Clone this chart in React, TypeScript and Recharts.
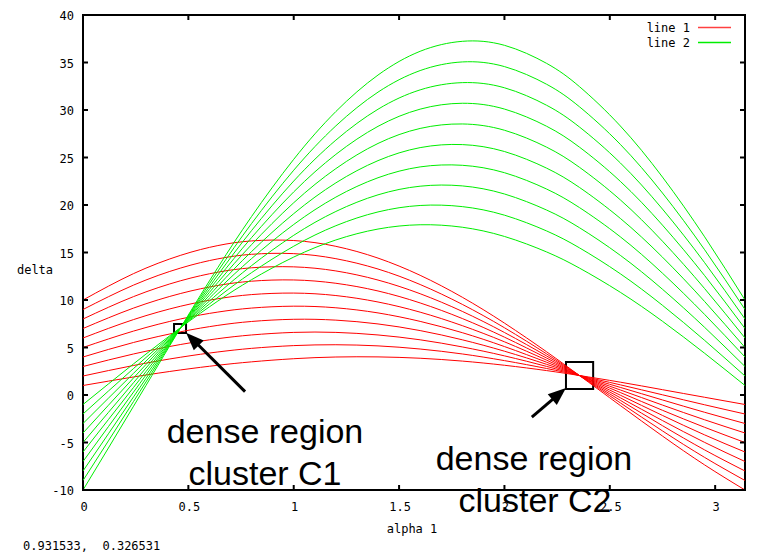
import React from "react";
import {
  LineChart, Line, XAxis, YAxis, Legend, ReferenceArea, ReferenceLine,
} from "recharts";

// alpha 1 sample positions (0 .. pi)
const alpha = [0, 0.24, 0.464, 0.64, 0.8, 1.0, 1.2, 1.4, 1.6, 1.8, 2.0, 2.2, 2.356, 2.55, 2.75, 2.95, 3.1416];

// line 1 family (red), one array per curve
const line1 = [
  [1, 1.9, 2.64, 3.13, 3.49, 3.82, 4.0, 4.01, 3.87, 3.57, 3.13, 2.57, 2.05, 1.35, 0.56, -0.24, -1],
  [2, 3.11, 3.98, 4.53, 4.91, 5.2, 5.29, 5.17, 4.84, 4.32, 3.62, 2.79, 2.05, 1.07, 0.02, -1.03, -2],
  [3, 4.32, 5.32, 5.93, 6.32, 6.59, 6.59, 6.32, 5.81, 5.06, 4.12, 3.01, 2.05, 0.8, -0.52, -1.82, -3],
  [4, 5.53, 6.66, 7.33, 7.74, 7.97, 7.88, 7.48, 6.78, 5.81, 4.61, 3.23, 2.05, 0.53, -1.06, -2.61, -4],
  [5, 6.73, 8.01, 8.73, 9.15, 9.35, 9.18, 8.64, 7.75, 6.56, 5.1, 3.45, 2.05, 0.26, -1.61, -3.4, -5],
  [6, 7.94, 9.35, 10.13, 10.57, 10.73, 10.47, 9.79, 8.72, 7.3, 5.6, 3.67, 2.05, -0.02, -2.15, -4.2, -6],
  [7, 9.15, 10.69, 11.53, 11.98, 12.11, 11.76, 10.95, 9.69, 8.05, 6.09, 3.89, 2.05, -0.29, -2.69, -4.99, -7],
  [8, 10.36, 12.03, 12.93, 13.39, 13.49, 13.06, 12.1, 10.66, 8.8, 6.58, 4.11, 2.05, -0.56, -3.23, -5.78, -8],
  [9, 11.57, 13.37, 14.33, 14.81, 14.88, 14.35, 13.26, 11.63, 9.54, 7.08, 4.33, 2.05, -0.83, -3.78, -6.57, -9],
  [10, 12.78, 14.71, 15.73, 16.22, 16.26, 15.65, 14.41, 12.6, 10.29, 7.57, 4.55, 2.05, -1.11, -4.32, -7.36, -10],
];

// line 2 family (green)
const line2 = [
  [-1, 3.28, 7.11, 9.89, 12.14, 14.52, 16.32, 17.47, 17.92, 17.66, 16.69, 15.06, 13.36, 10.81, 7.76, 4.39, 1],
  [-2, 2.79, 7.11, 10.28, 12.88, 15.66, 17.82, 19.27, 19.95, 19.83, 18.93, 17.27, 15.49, 12.76, 9.44, 5.75, 2],
  [-3, 2.29, 7.11, 10.67, 13.62, 16.81, 19.32, 21.07, 21.98, 22.01, 21.16, 19.47, 17.61, 14.7, 11.13, 7.12, 3],
  [-4, 1.8, 7.11, 11.07, 14.36, 17.95, 20.83, 22.87, 24.01, 24.18, 23.4, 21.68, 19.73, 16.65, 12.82, 8.48, 4],
  [-5, 1.3, 7.11, 11.46, 15.1, 19.09, 22.33, 24.67, 26.04, 26.36, 25.63, 23.88, 21.85, 18.59, 14.51, 9.84, 5],
  [-6, 0.8, 7.11, 11.85, 15.83, 20.24, 23.83, 26.48, 28.06, 28.53, 27.87, 26.09, 23.97, 20.54, 16.19, 11.2, 6],
  [-7, 0.31, 7.11, 12.24, 16.57, 21.38, 25.33, 28.28, 30.09, 30.71, 30.1, 28.29, 26.09, 22.49, 17.88, 12.57, 7],
  [-8, -0.19, 7.11, 12.63, 17.31, 22.52, 26.83, 30.08, 32.12, 32.88, 32.34, 30.5, 28.21, 24.43, 19.57, 13.93, 8],
  [-9, -0.68, 7.11, 13.03, 18.05, 23.66, 28.33, 31.88, 34.15, 35.06, 34.57, 32.71, 30.34, 26.38, 21.26, 15.29, 9],
  [-10, -1.18, 7.11, 13.42, 18.79, 24.81, 29.84, 33.68, 36.18, 37.23, 36.81, 34.91, 32.46, 28.32, 22.94, 16.65, 10],
];

const xTicks = [0, 0.5, 1, 1.5, 2, 2.5, 3];
const yTicks = [-10, -5, 0, 5, 10, 15, 20, 25, 30, 35, 40];
const X_MAX = 3.1416;

// annotation boxes and arrows, in data units
const boxC1 = { x1: 0.432, x2: 0.489, y1: 6.53, y2: 7.47 };
const boxC2 = { x1: 2.292, x2: 2.421, y1: 0.63, y2: 3.47 };
const arrowC1 = [{ x: 0.769, y: 0.35 }, { x: 0.489, y: 6.56 }];
const arrowC2 = [{ x: 2.13, y: -2.32 }, { x: 2.292, y: 0.74 }];

const W = 758;
const H = 553;
const LEFT = 83;
const RIGHT = 745;
const TOP = 15;
const BOTTOM = 490;
const MONO = "'DejaVu Sans Mono', monospace";
const SANS = "'Liberation Sans', Arial, sans-serif";
const RED = "#ff0000";
const GREEN = "#00ee00";

const data = alpha.map((a, i) => {
  const row: Record<string, number> = { a };
  line1.forEach((c, k) => { row[`r${k}`] = c[i]; });
  line2.forEach((c, k) => { row[`g${k}`] = c[i]; });
  return row;
});

// inward ticks on bottom and mirrored on top
const XTick = ({ x, payload }: any) => (
  <g>
    <line x1={x} y1={BOTTOM} x2={x} y2={BOTTOM - 5} stroke="#000" strokeWidth={2} />
    <line x1={x} y1={TOP} x2={x} y2={TOP + 5} stroke="#000" strokeWidth={2} />
    <text x={x + 1} y={511} textAnchor="middle" fontFamily={MONO} fontSize={12} fill="#000">
      {String(payload.value)}
    </text>
  </g>
);

// inward ticks on left and mirrored on right
const YTick = ({ y, payload }: any) => (
  <g>
    <line x1={LEFT} y1={y} x2={LEFT + 5} y2={y} stroke="#000" strokeWidth={2} />
    <line x1={RIGHT} y1={y} x2={RIGHT - 5} y2={y} stroke="#000" strokeWidth={2} />
    <text x={74} y={y + 5} textAnchor="end" fontFamily={MONO} fontSize={12} fill="#000">
      {String(payload.value)}
    </text>
  </g>
);

const Arrow = (props: any) => {
  const { x1, y1, x2, y2 } = props;
  const dx = x2 - x1;
  const dy = y2 - y1;
  const len = Math.hypot(dx, dy) || 1;
  const ux = dx / len;
  const uy = dy / len;
  const head = 18;
  const half = 7;
  const bx = x2 - ux * head;
  const by = y2 - uy * head;
  return (
    <g>
      <line x1={x1} y1={y1} x2={bx + ux * 2} y2={by + uy * 2} stroke="#000" strokeWidth={3} />
      <polygon
        points={`${x2},${y2} ${bx - uy * half},${by + ux * half} ${bx + uy * half},${by - ux * half}`}
        fill="#000"
      />
    </g>
  );
};

const LegendBox = () => (
  <svg width={140} height={32}>
    <text x={90} y={12} textAnchor="end" fontFamily={MONO} fontSize={12} fill="#000">line 1</text>
    <line x1={98} y1={7.5} x2={131} y2={7.5} stroke="#ff4040" strokeWidth={1.5} />
    <text x={90} y={27} textAnchor="end" fontFamily={MONO} fontSize={12} fill="#000">line 2</text>
    <line x1={98} y1={22.5} x2={131} y2={22.5} stroke={GREEN} strokeWidth={1.5} />
  </svg>
);

export default function App() {
  return (
    <div style={{ position: "absolute", left: 0, top: 0, width: W, height: H, background: "#fff" }}>
      <LineChart
        width={W}
        height={H}
        data={data}
        margin={{ top: TOP, right: W - RIGHT, bottom: 33, left: 0 }}
      >
        <XAxis
          dataKey="a"
          type="number"
          domain={[0, X_MAX]}
          ticks={xTicks}
          interval={0}
          height={30}
          axisLine={false}
          tickLine={false}
          tick={<XTick />}
          allowDataOverflow
        />
        <YAxis
          type="number"
          domain={[-10, 40]}
          ticks={yTicks}
          interval={0}
          width={LEFT}
          axisLine={false}
          tickLine={false}
          tick={<YTick />}
          allowDataOverflow
        />
        <Legend
          layout="vertical"
          align="center"
          verticalAlign="middle"
          content={() => <LegendBox />}
          wrapperStyle={{ left: 600, top: 20, width: 140, height: 32 }}
        />
        {line1.map((_, k) => (
          <Line
            key={`r${k}`}
            type="natural"
            dataKey={`r${k}`}
            stroke={RED}
            strokeWidth={1}
            dot={false}
            activeDot={false}
            isAnimationActive={false}
          />
        ))}
        {line2.map((_, k) => (
          <Line
            key={`g${k}`}
            type="natural"
            dataKey={`g${k}`}
            stroke={GREEN}
            strokeWidth={1}
            dot={false}
            activeDot={false}
            isAnimationActive={false}
          />
        ))}
        <ReferenceArea x1={0} x2={X_MAX} y1={-10} y2={40} fill="none" stroke="#000" strokeWidth={2} ifOverflow="visible" />
        <ReferenceArea {...boxC1} fill="none" fillOpacity={0} stroke="#000" strokeWidth={2} ifOverflow="visible" />
        <ReferenceArea {...boxC2} fill="none" fillOpacity={0} stroke="#000" strokeWidth={2} ifOverflow="visible" />
        <ReferenceLine segment={arrowC1} shape={Arrow} ifOverflow="visible" />
        <ReferenceLine segment={arrowC2} shape={Arrow} ifOverflow="visible" />
      </LineChart>
      <svg
        width={W}
        height={H}
        style={{ position: "absolute", left: 0, top: 0, pointerEvents: "none" }}
      >
        <text x={412} y={533} textAnchor="middle" fontFamily={MONO} fontSize={12} fill="#000">alpha 1</text>
        <text x={35} y={274} textAnchor="middle" fontFamily={MONO} fontSize={12} fill="#000">delta</text>
        <text x={23} y={550} fontFamily={MONO} fontSize={12} fill="#000" style={{ whiteSpace: "pre" }}>
          0.931533,  0.326531
        </text>
        <g fontFamily={SANS} fontSize={34} fill="#000" textAnchor="middle">
          <text x={265} y={443}>dense region</text>
          <text x={265} y={485}>cluster C1</text>
          <text x={534} y={470}>dense region</text>
          <text x={535} y={512}>cluster C2</text>
        </g>
      </svg>
    </div>
  );
}
